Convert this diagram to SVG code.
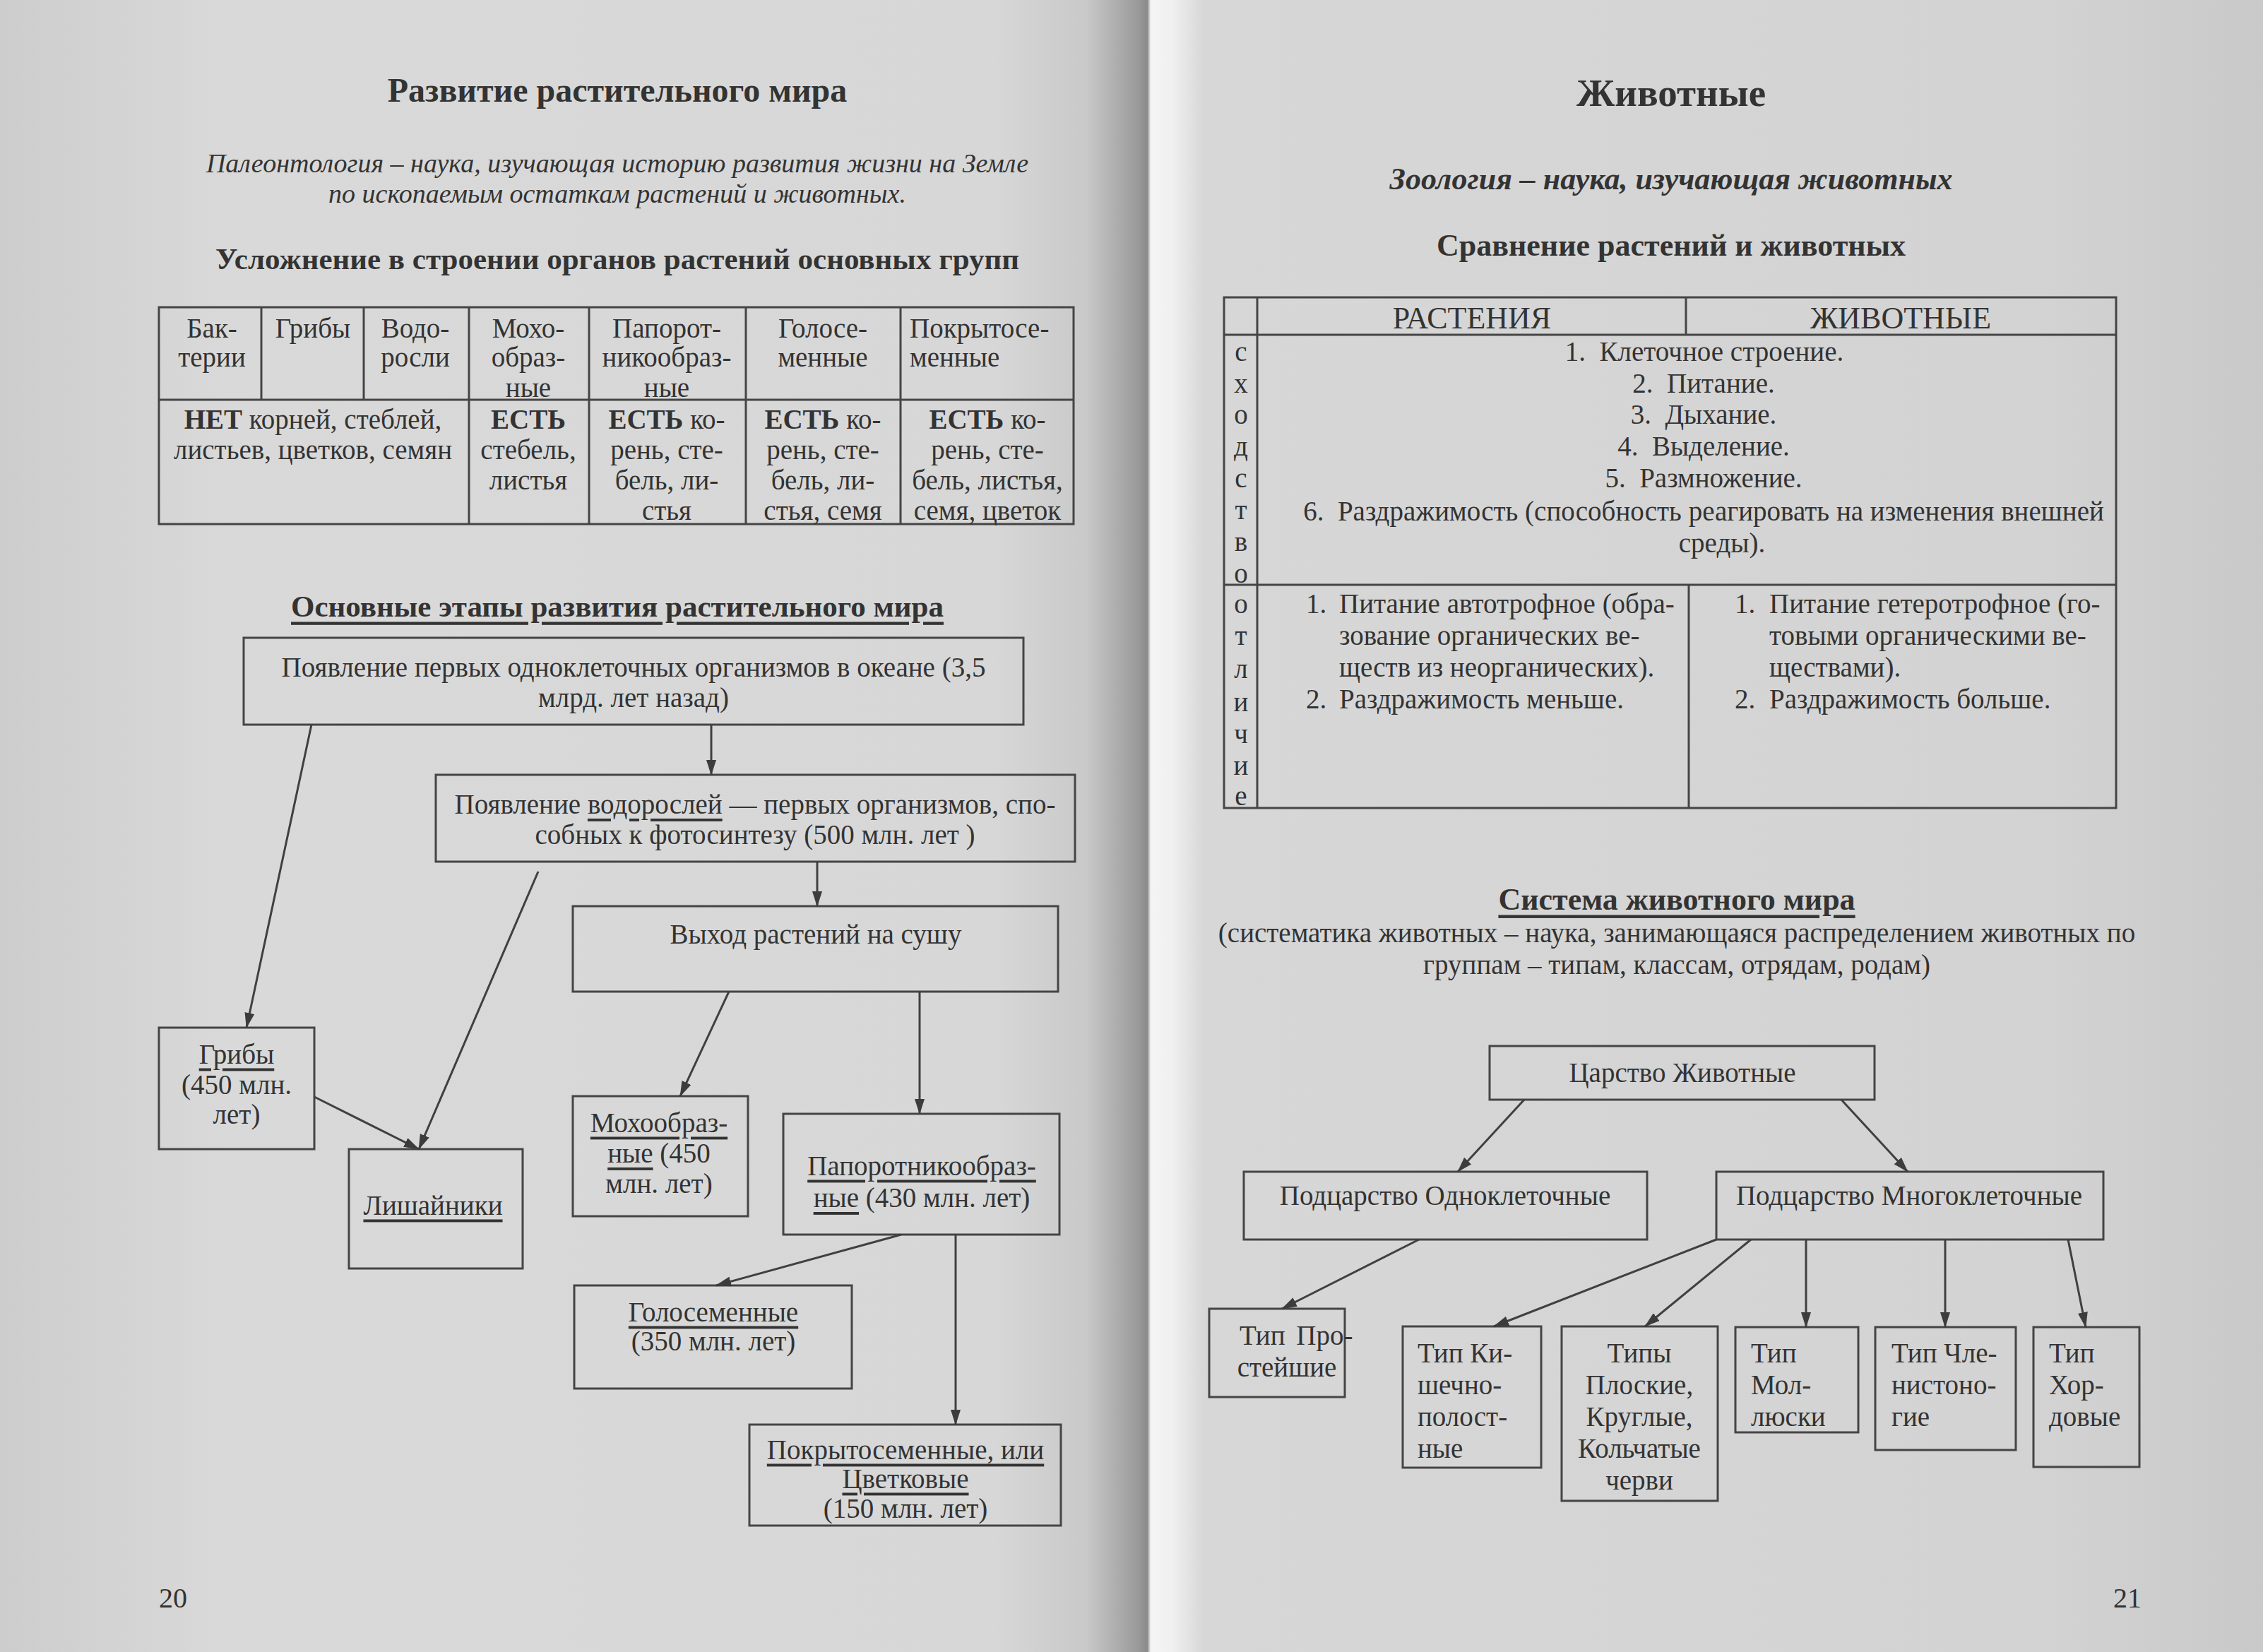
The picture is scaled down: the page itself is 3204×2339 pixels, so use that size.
<svg xmlns="http://www.w3.org/2000/svg" width="3204" height="2339" viewBox="0 0 3204 2339">
<defs>
<linearGradient id="paper" x1="0" y1="0" x2="3204" y2="0" gradientUnits="userSpaceOnUse">
<stop offset="0" stop-color="#cdcdcd"/>
<stop offset="0.1" stop-color="#d9d9d9"/>
<stop offset="0.44" stop-color="#d7d7d7"/>
<stop offset="0.48" stop-color="#c9c9c9"/>
<stop offset="0.503" stop-color="#9a9a9a"/>
<stop offset="0.507" stop-color="#8a8a8a"/>
<stop offset="0.5085" stop-color="#f4f4f4"/>
<stop offset="0.518" stop-color="#f0f0f0"/>
<stop offset="0.532" stop-color="#d7d7d7"/>
<stop offset="0.9" stop-color="#d3d3d3"/>
<stop offset="1" stop-color="#c9c9c9"/>
</linearGradient>
<marker id="ah" markerUnits="userSpaceOnUse" markerWidth="22" markerHeight="14" refX="21" refY="7" orient="auto">
<path d="M0,0 L22,7 L0,14 z" fill="#3c3c3c"/>
</marker>
<style>
text{font-family:"Liberation Serif","Times New Roman",serif;fill:#333333;dominant-baseline:central}
.t{font-size:39px}
.c{text-anchor:middle}
.b{font-weight:bold}
.u{text-decoration:underline}
.box{fill:none;stroke:#454545;stroke-width:3}
.ln{fill:none;stroke:#454545;stroke-width:3}
.arr{fill:none;stroke:#404040;stroke-width:3;marker-end:url(#ah)}
</style>
</defs>
<rect x="0" y="0" width="3204" height="2339" fill="url(#paper)"/>

<!-- LEFT PAGE -->
<g id="left-headings">
<text x="874" y="127" class="c b" font-size="48">Развитие растительного мира</text>
<text x="874" y="231" class="c" font-size="38" font-style="italic">Палеонтология – наука, изучающая историю развития жизни на Земле</text>
<text x="874" y="274" class="c" font-size="38" font-style="italic">по ископаемым остаткам растений и животных.</text>
<text x="874" y="366" class="c b" font-size="43">Усложнение в строении органов растений основных групп</text>
</g>

<g id="table-plants">
<rect class="box" x="225" y="435" width="1295" height="307"/>
<line class="ln" x1="225" y1="566" x2="1520" y2="566"/>
<line class="ln" x1="370" y1="435" x2="370" y2="566"/>
<line class="ln" x1="515" y1="435" x2="515" y2="566"/>
<line class="ln" x1="664" y1="435" x2="664" y2="742"/>
<line class="ln" x1="834" y1="435" x2="834" y2="742"/>
<line class="ln" x1="1056" y1="435" x2="1056" y2="742"/>
<line class="ln" x1="1275" y1="435" x2="1275" y2="742"/>
<g class="t">
<text x="300" y="464" class="c">Бак-</text><text x="300" y="505" class="c">терии</text>
<text x="443" y="464" class="c">Грибы</text>
<text x="588" y="464" class="c">Водо-</text><text x="588" y="505" class="c">росли</text>
<text x="748" y="464" class="c">Мохо-</text><text x="748" y="505" class="c">образ-</text><text x="748" y="548" class="c">ные</text>
<text x="944" y="464" class="c">Папорот-</text><text x="944" y="505" class="c">никообраз-</text><text x="944" y="548" class="c">ные</text>
<text x="1165" y="464" class="c">Голосе-</text><text x="1165" y="505" class="c">менные</text>
<text x="1288" y="464">Покрытосе-</text><text x="1288" y="505">менные</text>

<text x="443" y="593" class="c"><tspan class="b">НЕТ</tspan> корней, стеблей,</text>
<text x="443" y="636" class="c">листьев, цветков, семян</text>
<text x="748" y="593" class="c b">ЕСТЬ</text><text x="748" y="636" class="c">стебель,</text><text x="748" y="679" class="c">листья</text>
<text x="944" y="593" class="c"><tspan class="b">ЕСТЬ</tspan> ко-</text><text x="944" y="636" class="c">рень, сте-</text><text x="944" y="679" class="c">бель, ли-</text><text x="944" y="722" class="c">стья</text>
<text x="1165" y="593" class="c"><tspan class="b">ЕСТЬ</tspan> ко-</text><text x="1165" y="636" class="c">рень, сте-</text><text x="1165" y="679" class="c">бель, ли-</text><text x="1165" y="722" class="c">стья, семя</text>
<text x="1398" y="593" class="c"><tspan class="b">ЕСТЬ</tspan> ко-</text><text x="1398" y="636" class="c">рень, сте-</text><text x="1398" y="679" class="c">бель, листья,</text><text x="1398" y="722" class="c">семя, цветок</text>
</g>
</g>

<text x="874" y="858" class="c b u" font-size="43">Основные этапы развития растительного мира</text>

<g id="n-origin">
<rect class="box" x="345" y="903" width="1104" height="123"/>
<text x="897" y="944" class="t c">Появление первых одноклеточных организмов в океане (3,5</text>
<text x="897" y="987" class="t c">млрд. лет назад)</text>
</g>
<g id="n-algae">
<rect class="box" x="617" y="1097" width="905" height="123"/>
<text x="1069" y="1138" class="t c">Появление <tspan class="u">водорослей</tspan> — первых организмов, спо-</text>
<text x="1069" y="1181" class="t c">собных к фотосинтезу (500 млн. лет )</text>
</g>
<g id="n-land">
<rect class="box" x="811" y="1283" width="687" height="121"/>
<text x="1155" y="1322" class="t c">Выход растений на сушу</text>
</g>
<g id="n-fungi">
<rect class="box" x="225" y="1455" width="220" height="172"/>
<text x="335" y="1492" class="t c u">Грибы</text>
<text x="335" y="1535" class="t c">(450 млн.</text>
<text x="335" y="1577" class="t c">лет)</text>
</g>
<g id="n-lichens">
<rect class="box" x="494" y="1627" width="246" height="169"/>
<text x="613" y="1706" class="t c u">Лишайники</text>
</g>
<g id="n-mosses">
<rect class="box" x="811" y="1552" width="248" height="170"/>
<text x="933" y="1589" class="t c u">Мохообраз-</text>
<text x="933" y="1632" class="t c"><tspan class="u">ные</tspan> (450</text>
<text x="933" y="1675" class="t c">млн. лет)</text>
</g>
<g id="n-ferns">
<rect class="box" x="1109" y="1577" width="391" height="171"/>
<text x="1305" y="1650" class="t c u">Папоротникообраз-</text>
<text x="1305" y="1695" class="t c"><tspan class="u">ные</tspan> (430 млн. лет)</text>
</g>
<g id="n-gymno">
<rect class="box" x="813" y="1820" width="393" height="146"/>
<text x="1010" y="1857" class="t c u">Голосеменные</text>
<text x="1010" y="1898" class="t c">(350 млн. лет)</text>
</g>
<g id="n-angio">
<rect class="box" x="1061" y="2017" width="441" height="143"/>
<text x="1282" y="2052" class="t c u">Покрытосеменные, или</text>
<text x="1282" y="2093" class="t c u">Цветковые</text>
<text x="1282" y="2135" class="t c">(150 млн. лет)</text>
</g>

<g id="connectors-left">
<line class="arr" x1="1007" y1="1026" x2="1007" y2="1097"/>
<line class="arr" x1="441" y1="1026" x2="349" y2="1455"/>
<line class="arr" x1="762" y1="1234" x2="593" y2="1627"/>
<line class="arr" x1="1157" y1="1220" x2="1157" y2="1283"/>
<line class="arr" x1="445" y1="1553" x2="593" y2="1627"/>
<line class="arr" x1="1032" y1="1404" x2="963" y2="1552"/>
<line class="arr" x1="1302" y1="1404" x2="1302" y2="1577"/>
<line class="arr" x1="1276" y1="1748" x2="1014" y2="1820"/>
<line class="arr" x1="1353" y1="1748" x2="1353" y2="2017"/>
</g>

<text x="245" y="2262" class="c" font-size="40">20</text>

<!-- RIGHT PAGE -->
<g id="right-headings">
<text x="2366" y="131" class="c b" font-size="55">Животные</text>
<text x="2366" y="253" class="c b" font-size="44" font-style="italic">Зоология – наука, изучающая животных</text>
<text x="2366" y="347" class="c b" font-size="44">Сравнение растений и животных</text>
</g>

<g id="table-compare">
<rect class="box" x="1733" y="421" width="1263" height="723"/>
<line class="ln" x1="1733" y1="474" x2="2996" y2="474"/>
<line class="ln" x1="1780" y1="421" x2="1780" y2="1144"/>
<line class="ln" x1="2387" y1="421" x2="2387" y2="474"/>
<line class="ln" x1="1733" y1="828" x2="2996" y2="828"/>
<line class="ln" x1="2391" y1="828" x2="2391" y2="1144"/>
<text x="2084" y="450" class="c" font-size="44">РАСТЕНИЯ</text>
<text x="2691" y="450" class="c" font-size="44">ЖИВОТНЫЕ</text>
<g class="t">
<text x="1757" y="497" class="c">с</text>
<text x="1757" y="542" class="c">х</text>
<text x="1757" y="586" class="c">о</text>
<text x="1757" y="631" class="c">д</text>
<text x="1757" y="676" class="c">с</text>
<text x="1757" y="721" class="c">т</text>
<text x="1757" y="766" class="c">в</text>
<text x="1757" y="811" class="c">о</text>
<text x="1757" y="854" class="c">о</text>
<text x="1757" y="899" class="c">т</text>
<text x="1757" y="946" class="c">л</text>
<text x="1757" y="993" class="c">и</text>
<text x="1757" y="1038" class="c">ч</text>
<text x="1757" y="1083" class="c">и</text>
<text x="1757" y="1126" class="c">е</text>

<text x="2413" y="497" class="c" xml:space="preserve">1.  Клеточное строение.</text>
<text x="2412" y="542" class="c" xml:space="preserve">2.  Питание.</text>
<text x="2412" y="586" class="c" xml:space="preserve">3.  Дыхание.</text>
<text x="2412" y="631" class="c" xml:space="preserve">4.  Выделение.</text>
<text x="2412" y="676" class="c" xml:space="preserve">5.  Размножение.</text>
<text x="2412" y="723" class="c" xml:space="preserve">6.  Раздражимость (способность реагировать на изменения внешней</text>
<text x="2438" y="768" class="c">среды).</text>

<text x="1849" y="854">1.</text><text x="1896" y="854">Питание автотрофное (обра-</text>
<text x="1896" y="899">зование органических ве-</text>
<text x="1896" y="944">ществ из неорганических).</text>
<text x="1849" y="989">2.</text><text x="1896" y="989">Раздражимость меньше.</text>

<text x="2456" y="854">1.</text><text x="2505" y="854">Питание гетеротрофное (го-</text>
<text x="2505" y="899">товыми органическими ве-</text>
<text x="2505" y="944">ществами).</text>
<text x="2456" y="989">2.</text><text x="2505" y="989">Раздражимость больше.</text>
</g>
</g>

<g id="system-heading">
<text x="2374" y="1273" class="c b u" font-size="44">Система животного мира</text>
<text x="2374" y="1320" class="t c">(систематика животных – наука, занимающаяся распределением животных по</text>
<text x="2374" y="1365" class="t c">группам – типам, классам, отрядам, родам)</text>
</g>

<g id="n-kingdom">
<rect class="box" x="2109" y="1481" width="545" height="76"/>
<text x="2382" y="1518" class="t c">Царство Животные</text>
</g>
<g id="n-unicellular">
<rect class="box" x="1761" y="1659" width="571" height="96"/>
<text x="2046" y="1692" class="t c">Подцарство Одноклеточные</text>
</g>
<g id="n-multicellular">
<rect class="box" x="2430" y="1659" width="548" height="96"/>
<text x="2703" y="1692" class="t c">Подцарство Многоклеточные</text>
</g>
<g id="n-protozoa">
<rect class="box" x="1712" y="1853" width="192" height="125"/>
<text x="1755" y="1890" class="t" xml:space="preserve">Тип <tspan dx="6">Про-</tspan></text>
<text x="1822" y="1935" class="t c">стейшие</text>
</g>
<g id="n-coelenterates">
<rect class="box" x="1986" y="1878" width="196" height="200"/>
<text x="2007" y="1915" class="t">Тип Ки-</text>
<text x="2007" y="1960" class="t">шечно-</text>
<text x="2007" y="2005" class="t">полост-</text>
<text x="2007" y="2050" class="t">ные</text>
</g>
<g id="n-worms">
<rect class="box" x="2211" y="1878" width="221" height="247"/>
<text x="2321" y="1915" class="t c">Типы</text>
<text x="2321" y="1960" class="t c">Плоские,</text>
<text x="2321" y="2005" class="t c">Круглые,</text>
<text x="2321" y="2050" class="t c">Кольчатые</text>
<text x="2321" y="2095" class="t c">черви</text>
</g>
<g id="n-molluscs">
<rect class="box" x="2457" y="1879" width="174" height="149"/>
<text x="2479" y="1915" class="t">Тип</text>
<text x="2479" y="1960" class="t">Мол-</text>
<text x="2479" y="2005" class="t">люски</text>
</g>
<g id="n-arthropods">
<rect class="box" x="2655" y="1879" width="199" height="174"/>
<text x="2678" y="1915" class="t">Тип Чле-</text>
<text x="2678" y="1960" class="t">нистоно-</text>
<text x="2678" y="2005" class="t">гие</text>
</g>
<g id="n-chordates">
<rect class="box" x="2879" y="1879" width="150" height="198"/>
<text x="2901" y="1915" class="t">Тип</text>
<text x="2901" y="1960" class="t">Хор-</text>
<text x="2901" y="2005" class="t">довые</text>
</g>

<g id="connectors-right">
<line class="arr" x1="2158" y1="1557" x2="2064" y2="1659"/>
<line class="arr" x1="2607" y1="1557" x2="2701" y2="1659"/>
<line class="arr" x1="2009" y1="1755" x2="1815" y2="1853"/>
<line class="arr" x1="2430" y1="1755" x2="2115" y2="1878"/>
<line class="arr" x1="2479" y1="1755" x2="2329" y2="1878"/>
<line class="arr" x1="2557" y1="1755" x2="2557" y2="1879"/>
<line class="arr" x1="2754" y1="1755" x2="2754" y2="1879"/>
<line class="arr" x1="2928" y1="1755" x2="2953" y2="1879"/>
</g>

<text x="3012" y="2262" class="c" font-size="40">21</text>
</svg>
